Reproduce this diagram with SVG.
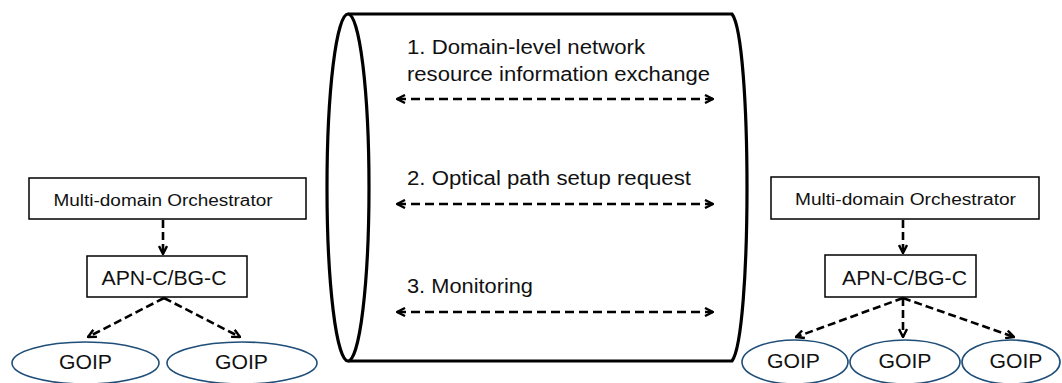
<svg xmlns="http://www.w3.org/2000/svg" width="1062" height="383" viewBox="0 0 1062 383">
  <defs>
    <style>
      text { font-family: "Liberation Sans", Arial, sans-serif; fill: #111; }
      .box { fill: #fff; stroke: #000; stroke-width: 1.5; }
      .goip { fill: #fff; stroke: #1f4e79; stroke-width: 1.6; }
      .pipe { fill: #fff; stroke: #000; stroke-width: 3.2; }
      .link { fill: none; stroke: #000; stroke-width: 2.6; stroke-dasharray: 8 4; }
      .xchg { fill: none; stroke: #000; stroke-width: 2.4; stroke-dasharray: 9 5; }
    </style>
    <marker id="chev" viewBox="0 0 10 10" refX="9" refY="5" markerWidth="10" markerHeight="10" markerUnits="userSpaceOnUse" orient="auto-start-reverse">
      <path d="M1,1 L9,5 L1,9" fill="none" stroke="#000" stroke-width="2.4"/>
    </marker>
  </defs>

  <!-- interconnection pipe between the two domains -->
  <g id="pipe">
    <path class="pipe" d="M348,14 L732,14 C752,40 752,335 732,361 L348,361"/>
    <ellipse class="pipe" cx="348" cy="187.5" rx="21" ry="173.5"/>
    <text x="407" y="54" font-size="20" textLength="238" lengthAdjust="spacingAndGlyphs">1. Domain-level network</text>
    <text x="407" y="81" font-size="20" textLength="303" lengthAdjust="spacingAndGlyphs">resource information exchange</text>
    <text x="407" y="185" font-size="20" textLength="284" lengthAdjust="spacingAndGlyphs">2. Optical path setup request</text>
    <text x="407" y="293" font-size="20" textLength="126" lengthAdjust="spacingAndGlyphs">3. Monitoring</text>
  </g>

  <!-- left domain -->
  <g id="orch-left">
    <rect class="box" x="29" y="178" width="277" height="41"/>
    <text x="163" y="206" font-size="16" text-anchor="middle" textLength="219" lengthAdjust="spacingAndGlyphs">Multi-domain Orchestrator</text>
  </g>
  <g id="ctrl-left">
    <rect class="box" x="87" y="256" width="160" height="41"/>
    <text x="164" y="285" font-size="20" text-anchor="middle" textLength="125" lengthAdjust="spacingAndGlyphs">APN-C/BG-C</text>
  </g>
  <g id="goip-l1">
    <ellipse class="goip" cx="85.5" cy="363" rx="73.5" ry="21"/>
    <text x="85.5" y="369" font-size="20" text-anchor="middle" textLength="53" lengthAdjust="spacingAndGlyphs">GOIP</text>
  </g>
  <g id="goip-l2">
    <ellipse class="goip" cx="242" cy="363" rx="75" ry="21"/>
    <text x="241.5" y="369" font-size="20" text-anchor="middle" textLength="53" lengthAdjust="spacingAndGlyphs">GOIP</text>
  </g>

  <!-- right domain -->
  <g id="orch-right">
    <rect class="box" x="771" y="177" width="268" height="42"/>
    <text x="905.5" y="205" font-size="16" text-anchor="middle" textLength="221" lengthAdjust="spacingAndGlyphs">Multi-domain Orchestrator</text>
  </g>
  <g id="ctrl-right">
    <rect class="box" x="825" y="255" width="151" height="42"/>
    <text x="904.5" y="285" font-size="20" text-anchor="middle" textLength="125" lengthAdjust="spacingAndGlyphs">APN-C/BG-C</text>
  </g>
  <g id="goip-r1">
    <ellipse class="goip" cx="795" cy="362" rx="53" ry="22"/>
    <text x="793.5" y="368" font-size="20" text-anchor="middle" textLength="53" lengthAdjust="spacingAndGlyphs">GOIP</text>
  </g>
  <g id="goip-r2">
    <ellipse class="goip" cx="905" cy="362" rx="55" ry="22"/>
    <text x="905" y="368" font-size="20" text-anchor="middle" textLength="53" lengthAdjust="spacingAndGlyphs">GOIP</text>
  </g>
  <g id="goip-r3">
    <ellipse class="goip" cx="1011" cy="362" rx="49" ry="22"/>
    <text x="1016" y="368" font-size="20" text-anchor="middle" textLength="53" lengthAdjust="spacingAndGlyphs">GOIP</text>
  </g>

  <!-- connectors -->
  <g id="connectors">
    <line class="xchg" x1="397" y1="99" x2="713" y2="99" marker-start="url(#chev)" marker-end="url(#chev)"/>
    <line class="xchg" x1="397" y1="204" x2="713" y2="204" marker-start="url(#chev)" marker-end="url(#chev)"/>
    <line class="xchg" x1="397" y1="312" x2="713" y2="312" marker-start="url(#chev)" marker-end="url(#chev)"/>

    <line class="link" x1="163" y1="220" x2="163" y2="254" marker-end="url(#chev)"/>
    <line class="link" x1="164" y1="298" x2="88" y2="337" marker-end="url(#chev)"/>
    <line class="link" x1="164" y1="298" x2="240" y2="337" marker-end="url(#chev)"/>

    <line class="link" x1="903" y1="220" x2="903" y2="253" marker-end="url(#chev)"/>
    <line class="link" x1="903" y1="298" x2="796" y2="337" marker-end="url(#chev)"/>
    <line class="link" x1="903" y1="298" x2="903" y2="337" marker-end="url(#chev)"/>
    <line class="link" x1="903" y1="298" x2="1014" y2="337" marker-end="url(#chev)"/>
  </g>
</svg>
